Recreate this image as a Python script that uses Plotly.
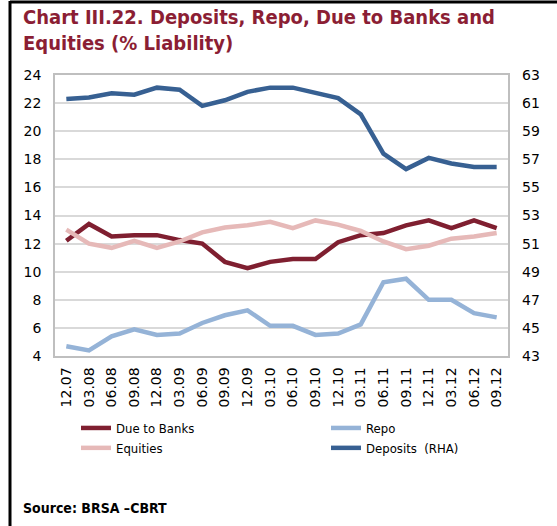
import plotly.graph_objects as go

categories = ["12.07", "03.08", "06.08", "09.08", "12.08", "03.09", "06.09", "09.09", "12.09", "03.10",
              "06.10", "09.10", "12.10", "03.11", "06.11", "09.11", "12.11", "03.12", "06.12", "09.12"]

due_to_banks = [12.2, 13.4, 12.5, 12.6, 12.6, 12.25, 12.0, 10.7, 10.25, 10.7,
                10.9, 10.9, 12.1, 12.6, 12.75, 13.3, 13.65, 13.1, 13.65, 13.1]
equities = [13.0, 12.0, 11.7, 12.2, 11.7, 12.15, 12.8, 13.15, 13.3, 13.55,
            13.1, 13.65, 13.35, 12.9, 12.15, 11.6, 11.85, 12.35, 12.5, 12.75]
repo = [4.7, 4.4, 5.4, 5.9, 5.5, 5.6, 6.35, 6.9, 7.25, 6.15,
        6.15, 5.5, 5.6, 6.25, 9.25, 9.5, 8.0, 8.0, 7.05, 6.75]
deposits = [61.3, 61.4, 61.7, 61.6, 62.1, 61.95, 60.8, 61.2, 61.8, 62.1,
            62.1, 61.75, 61.35, 60.2, 57.4, 56.3, 57.1, 56.7, 56.45, 56.45]

FONT = "DejaVu Sans, Verdana, sans-serif"
COND = "DejaVu Sans Condensed, DejaVu Sans, sans-serif"
W, H = 557, 526
L, R, T, B = 55, 508, 75, 356

fig = go.Figure()
fig.add_trace(go.Scatter(x=categories, y=due_to_banks, name="Due to Banks", mode="lines",
                         line=dict(color="#7F1F30", width=4.5), legend="legend"))
fig.add_trace(go.Scatter(x=categories, y=equities, name="Equities", mode="lines",
                         line=dict(color="#E6B9B8", width=4.5), legend="legend"))
fig.add_trace(go.Scatter(x=categories, y=repo, name="Repo", mode="lines",
                         line=dict(color="#95B3D7", width=4.5), legend="legend2"))
fig.add_trace(go.Scatter(x=categories, y=deposits, name="Deposits  (RHA)", mode="lines",
                         line=dict(color="#376092", width=4.5), yaxis="y2", legend="legend2"))

def px_x(p):
    return (p - L) / (R - L)

def px_y(p):
    return (B - p) / (B - T)

leg_common = dict(orientation="v", xanchor="left", yanchor="top", font=dict(size=13, family=COND),
                  tracegroupgap=0, itemwidth=30, bgcolor="rgba(0,0,0,0)", traceorder="normal")

fig.update_layout(
    width=W, height=H,
    margin=dict(l=L, r=W - R, t=T, b=H - B),
    paper_bgcolor="white", plot_bgcolor="white",
    font=dict(family=FONT, size=14, color="black"),
    showlegend=True,
    legend=dict(x=px_x(76), y=px_y(413), **leg_common),
    legend2=dict(x=px_x(326), y=px_y(413), **leg_common),
    xaxis=dict(type="category", range=[-0.5, 19.5], tickangle=-90, showgrid=False,
               showline=True, linecolor="#BFBFBF", linewidth=1.5, mirror=True,
               ticks="", tickfont=dict(size=14), ticklabelstandoff=4),
    yaxis=dict(range=[4, 24], tick0=4, dtick=2, showgrid=True, gridcolor="#D9D9D9", gridwidth=1.5,
               showline=True, linecolor="#BFBFBF", linewidth=1.5, mirror=True,
               zeroline=False, ticks="", tickfont=dict(size=14), ticklabelstandoff=9),
    yaxis2=dict(range=[43, 63], tick0=43, dtick=2, overlaying="y", side="right", showgrid=False,
                zeroline=False, ticks="", tickfont=dict(size=14), ticklabelstandoff=13),
)

fig.add_annotation(text="Chart III.22. Deposits, Repo, Due to Banks and<br>Equities (% Liability)",
                   xref="paper", yref="paper", x=px_x(21), y=px_y(3), xanchor="left", yanchor="top",
                   align="left", showarrow=False,
                   font=dict(family=COND, size=20, color="#8B1E34", weight="bold"))
fig.add_annotation(text="<b>Source: BRSA –CBRT</b>",
                   xref="paper", yref="paper", x=px_x(21), y=px_y(508), xanchor="left", yanchor="middle",
                   showarrow=False, font=dict(family=COND, size=14, color="black"))

# frame lines
fig.add_shape(type="line", xref="paper", yref="paper", x0=px_x(10), x1=px_x(W), y0=px_y(2), y1=px_y(2),
              line=dict(color="black", width=3))
fig.add_shape(type="line", xref="paper", yref="paper", x0=px_x(10), x1=px_x(10), y0=px_y(1), y1=px_y(H),
              line=dict(color="black", width=3))

fig.write_html("out.html")
